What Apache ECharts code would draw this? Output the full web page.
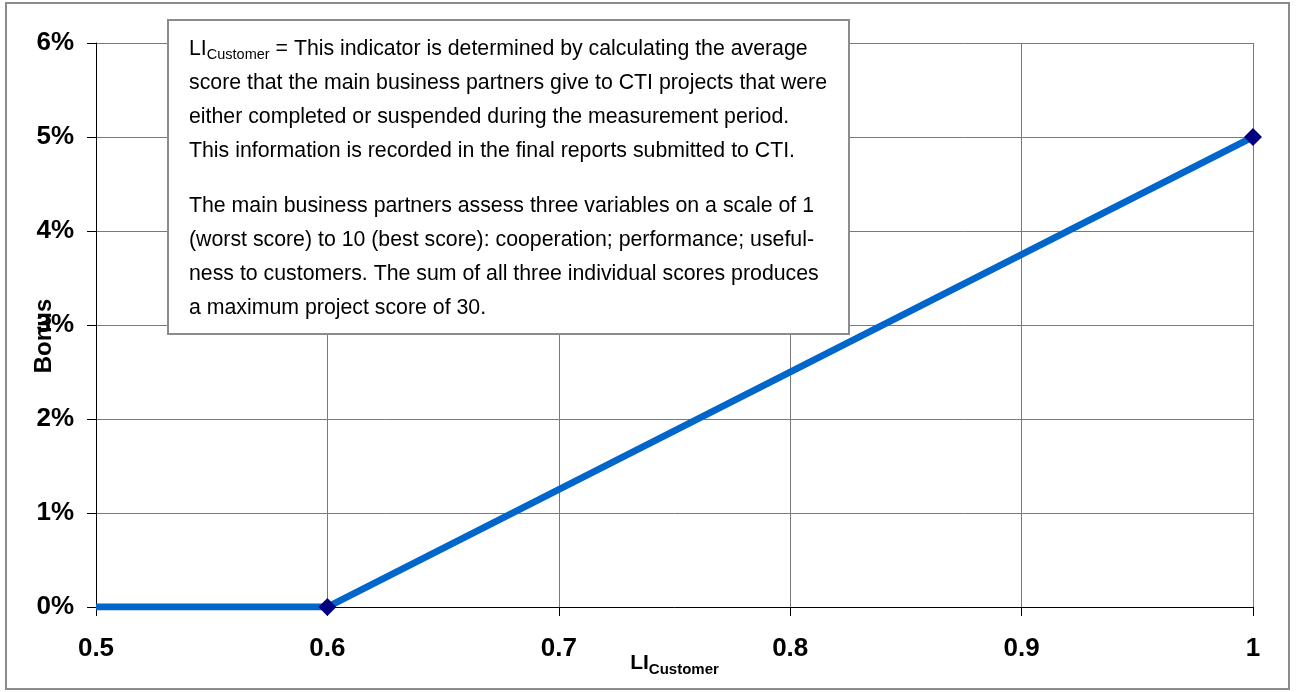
<!DOCTYPE html>
<html>
<head>
<meta charset="utf-8">
<script src="https://cdn.jsdelivr.net/npm/echarts@6/dist/echarts.min.js"></script>
<style>
  html, body { margin: 0; padding: 0; background: #fff; }
  #chart { width: 1298px; height: 692px; }
</style>
</head>
<body>
<div id="chart"></div>
<script>
// data
var liValues = [0.5, 0.6, 1.0];
var bonusValues = [0, 0, 5];          // percent
var xTicks = [0.5, 0.6, 0.7, 0.8, 0.9, 1];
var yTicks = [0, 1, 2, 3, 4, 5, 6];   // percent

var noteLines1 = [
  '{n|LI}{s|Customer}{n| = This indicator is determined by calculating the average}',
  '{n|score that the main business partners give to CTI projects that were}',
  '{n|either completed or suspended during the measurement period.}',
  '{n|This information is recorded in the final reports submitted to CTI.}'
];
var noteLines2 = [
  'The main business partners assess three variables on a scale of 1',
  '(worst score) to 10 (best score): cooperation; performance; useful-',
  'ness to customers. The sum of all three individual scores produces',
  'a maximum project score of 30.'
];

var FONT = '"Liberation Sans", Arial, sans-serif';

var seriesData = [];
for (var i = 0; i < liValues.length; i++) {
  var item = { value: [liValues[i], bonusValues[i]] };
  if (i === 0) item.symbol = 'none';   // no marker at the start
  seriesData.push(item);
}

var chart = echarts.init(document.getElementById('chart'), null, { renderer: 'canvas' });

// note box text elements
var noteTexts = [];
var lineGap = 34;
for (var j = 0; j < noteLines1.length; j++) {
  noteTexts.push({
    type: 'text', x: 189, y: 49 + j * lineGap, z: 11,
    style: {
      text: noteLines1[j],
      verticalAlign: 'middle',
      rich: {
        n: { fontFamily: FONT, fontSize: 21.3, fill: '#000' },
        s: { fontFamily: FONT, fontSize: 14.5, fill: '#000', padding: [11, 0, 0, 0] }
      }
    }
  });
}
for (var k = 0; k < noteLines2.length; k++) {
  noteTexts.push({
    type: 'text', x: 189, y: 206 + k * lineGap, z: 11,
    style: {
      text: noteLines2[k],
      font: '21.3px ' + FONT,
      fill: '#000',
      verticalAlign: 'middle'
    }
  });
}

var option = {
  backgroundColor: '#fff',
  animation: false,
  grid: { left: 96, top: 43, right: 45, bottom: 85, containLabel: false },
  xAxis: {
    type: 'value',
    min: xTicks[0],
    max: xTicks[xTicks.length - 1],
    interval: 0.1,
    name: '{a|LI}{b|Customer}',
    nameLocation: 'middle',
    nameGap: 43,
    nameMoveOverlap: false,
    nameTextStyle: {
      rich: {
        a: { fontFamily: FONT, fontSize: 21, fontWeight: 'bold', color: '#000' },
        b: { fontFamily: FONT, fontSize: 15, fontWeight: 'bold', color: '#000', padding: [12, 0, 0, 0] }
      }
    },
    axisLine: { show: true, onZero: false, lineStyle: { color: '#000', width: 1 } },
    axisTick: { show: true, length: 9, lineStyle: { color: '#000' } },
    axisLabel: {
      margin: 29,
      fontFamily: FONT, fontSize: 26, fontWeight: 'bold', color: '#000',
      formatter: function (v) { return String(Math.round(v * 10) / 10); }
    },
    splitLine: { show: true, lineStyle: { color: '#7a7a7a', width: 1 } }
  },
  yAxis: {
    type: 'value',
    min: yTicks[0],
    max: yTicks[yTicks.length - 1],
    interval: 1,
    axisLine: { show: true, onZero: false, lineStyle: { color: '#000', width: 1 } },
    axisTick: { show: true, length: 9, lineStyle: { color: '#000' } },
    axisLabel: {
      margin: 22,
      fontFamily: FONT, fontSize: 26, fontWeight: 'bold', color: '#000',
      formatter: '{value}%'
    },
    splitLine: { show: true, lineStyle: { color: '#7a7a7a', width: 1 } }
  },
  series: [{
    type: 'line',
    data: seriesData,
    symbol: 'diamond',
    symbolSize: 18,
    showAllSymbol: true,
    lineStyle: { color: '#0066CC', width: 7 },
    itemStyle: { color: '#000080' },
    z: 3
  }],
  graphic: [
    {
      type: 'rect', z: 20,
      shape: { x: 6, y: 3, width: 1283, height: 686 },
      style: { fill: null, stroke: '#8c8c8c', lineWidth: 2 }
    },
    {
      type: 'text', z: 5,
      x: 44, y: 336, rotation: Math.PI / 2,
      style: {
        text: 'Bonus',
        font: 'bold 24px ' + FONT,
        fill: '#000',
        align: 'center',
        verticalAlign: 'middle'
      }
    },
    {
      type: 'rect', z: 10,
      shape: { x: 168, y: 20, width: 681, height: 314 },
      style: { fill: '#fff', stroke: '#8c8c8c', lineWidth: 2 }
    }
  ].concat(noteTexts)
};

chart.setOption(option);
</script>
</body>
</html>
